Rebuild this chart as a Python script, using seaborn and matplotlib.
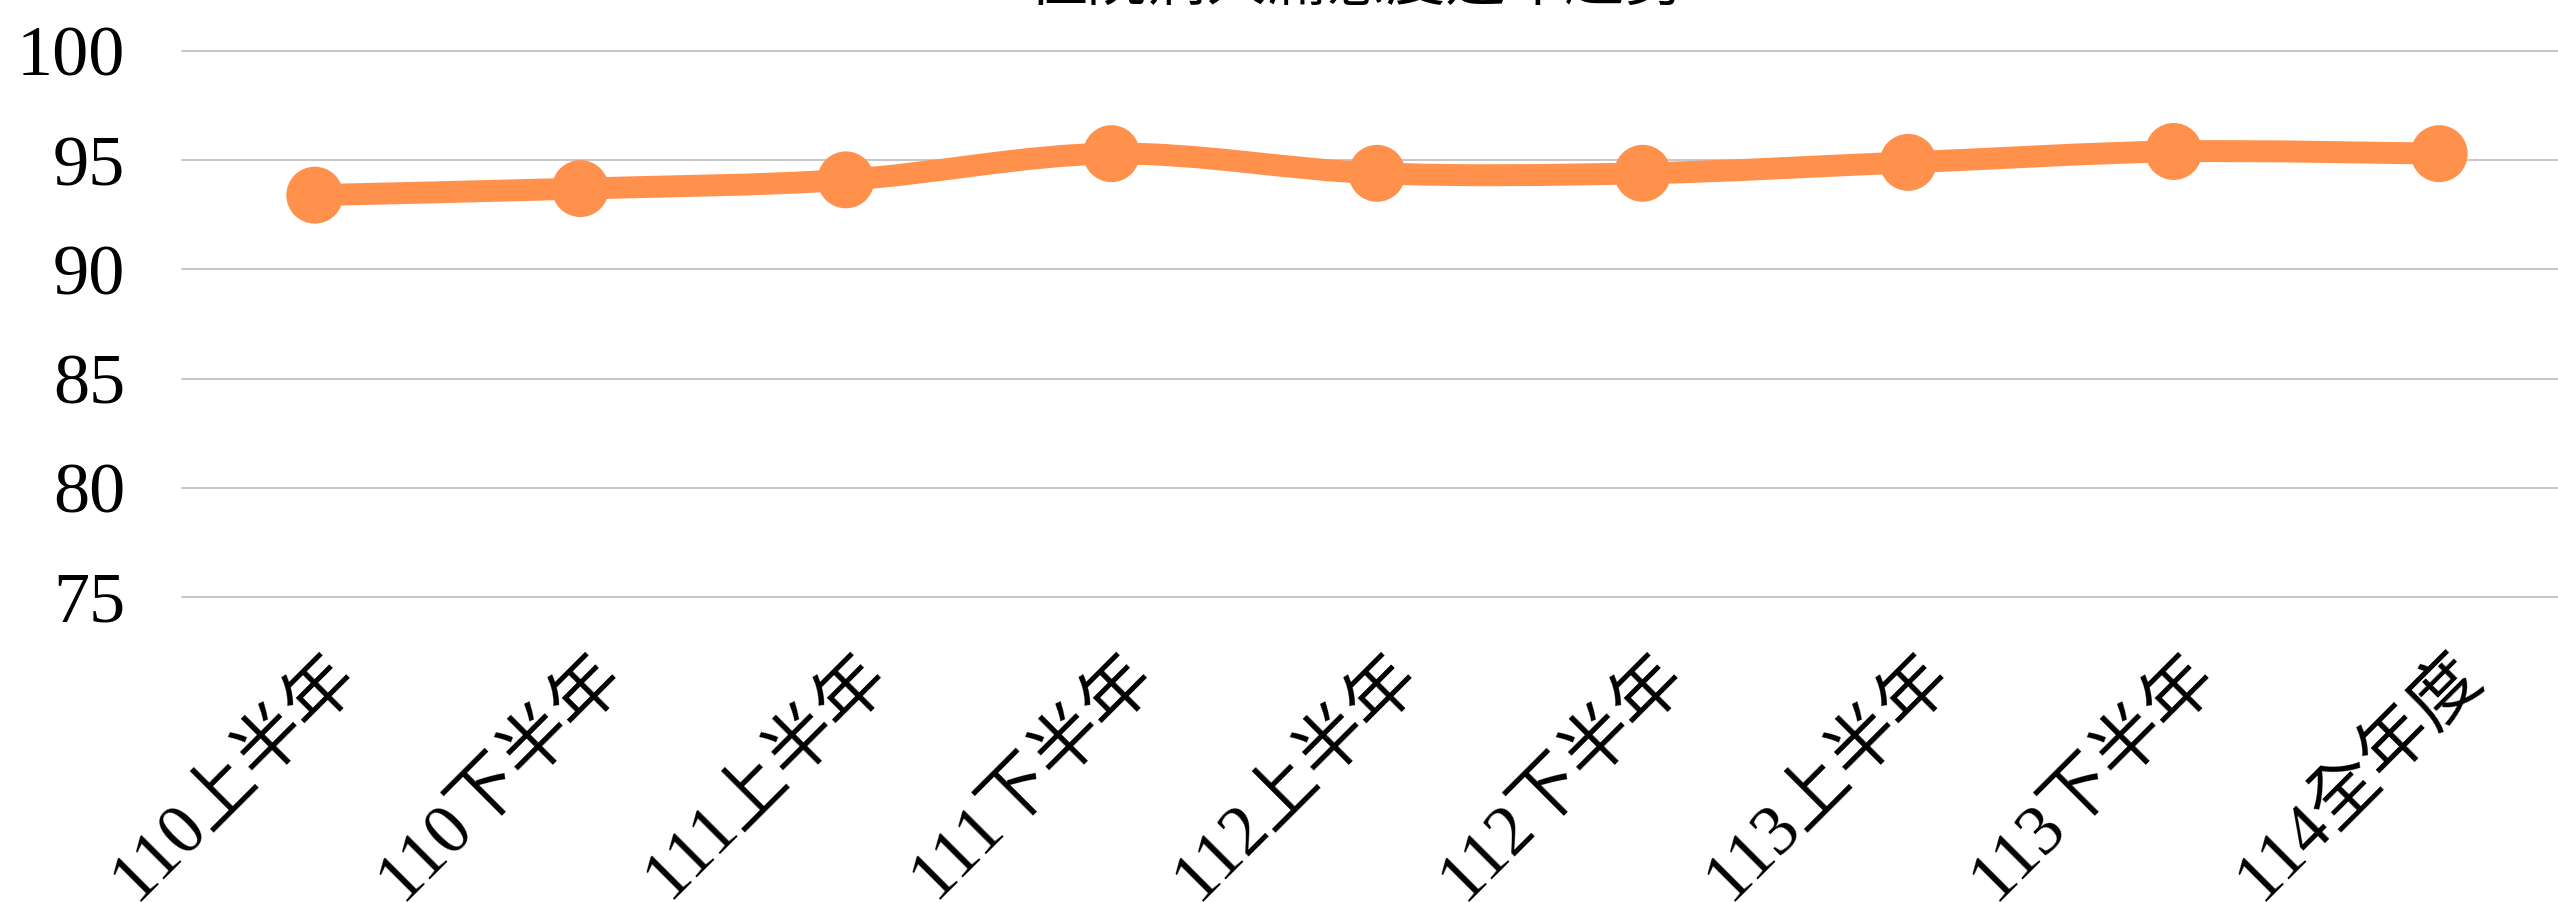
import numpy as np
import pandas as pd
import matplotlib
matplotlib.use('Agg')
import matplotlib.pyplot as plt
import matplotlib.transforms as mtrans
from matplotlib.path import Path
from matplotlib.patches import PathPatch
import seaborn as sns

# 資料
periods = ['110上半年', '110下半年', '111上半年', '111下半年', '112上半年',
           '112下半年', '113上半年', '113下半年', '114全年度']
scores = [93.4, 93.7, 94.1, 95.3, 94.4, 94.4, 94.9, 95.4, 95.3]
y_ticks = [75, 80, 85, 90, 95, 100]
title = '住院病人滿意度逐年趨勢'

orange = '#FF914D'

sns.set_theme(style='white')
plt.rcParams['font.family'] = ['Liberation Serif', 'Noto Sans CJK TC', 'DejaVu Sans']

df = pd.DataFrame({'period': periods, 'score': scores})
df['pos'] = np.arange(len(df))

fig = plt.figure(figsize=(25.58, 9.02), dpi=100)
# 繪圖區右側超出圖框 (原圖被裁切)
ax = fig.add_axes([182 / 2558, 1 - 597 / 902, 2390 / 2558, (597 - 51) / 902])

# 平滑曲線 (類似 Excel 的平滑線)
pts = df[['pos', 'score']].to_numpy(dtype=float)
ext = np.vstack([pts[0], pts, pts[-1]])
verts = [tuple(pts[0])]
codes = [Path.MOVETO]
for i in range(len(pts) - 1):
    p0, p1, p2, p3 = ext[i], ext[i + 1], ext[i + 2], ext[i + 3]
    c1 = p1 + (p2 - p0) / 6
    c2 = p2 - (p3 - p1) / 6
    verts += [tuple(c1), tuple(c2), tuple(p2)]
    codes += [Path.CURVE4] * 3
ax.add_patch(PathPatch(Path(verts, codes), facecolor='none', edgecolor=orange,
                       lw=15.8, capstyle='butt', zorder=2))

sns.scatterplot(data=df, x='pos', y='score', marker='o', s=41 ** 2,
                color=orange, edgecolor='none', linewidth=0, zorder=3, ax=ax,
                legend=False)

ax.set_xlim(-0.5, 8.5)
ax.set_ylim(75, 100)
ax.set_yticks(y_ticks)
ax.set_yticklabels([str(v) for v in y_ticks], fontsize=52, color='black')
ax.set_xticks(df['pos'])
ax.set_xticklabels(periods, fontsize=51, rotation=45, ha='right', va='center',
                   rotation_mode='anchor', color='black', weight='light')
ax.tick_params(axis='y', length=0, pad=41)
ax.tick_params(axis='x', length=0, pad=49)
# 標籤略向右移
shift = mtrans.ScaledTranslation(0.32, 0, fig.dpi_scale_trans)
for lab in ax.get_xticklabels():
    lab.set_transform(lab.get_transform() + shift)
ax.set_xlabel('')
ax.set_ylabel('')
ax.yaxis.grid(True, color='#C8C8C8', lw=1.5)
ax.xaxis.grid(False)
for s in ax.spines.values():
    s.set_visible(False)
for g in ax.get_ygridlines():
    g.set_clip_on(False)

fig.text(1357 / 2558, 1 - 1 / 902, title, ha='center', va='baseline',
         fontsize=43, color='black', family=['Noto Sans CJK TC', 'DejaVu Sans'])

fig.savefig('out.png', dpi=100, facecolor='white')
